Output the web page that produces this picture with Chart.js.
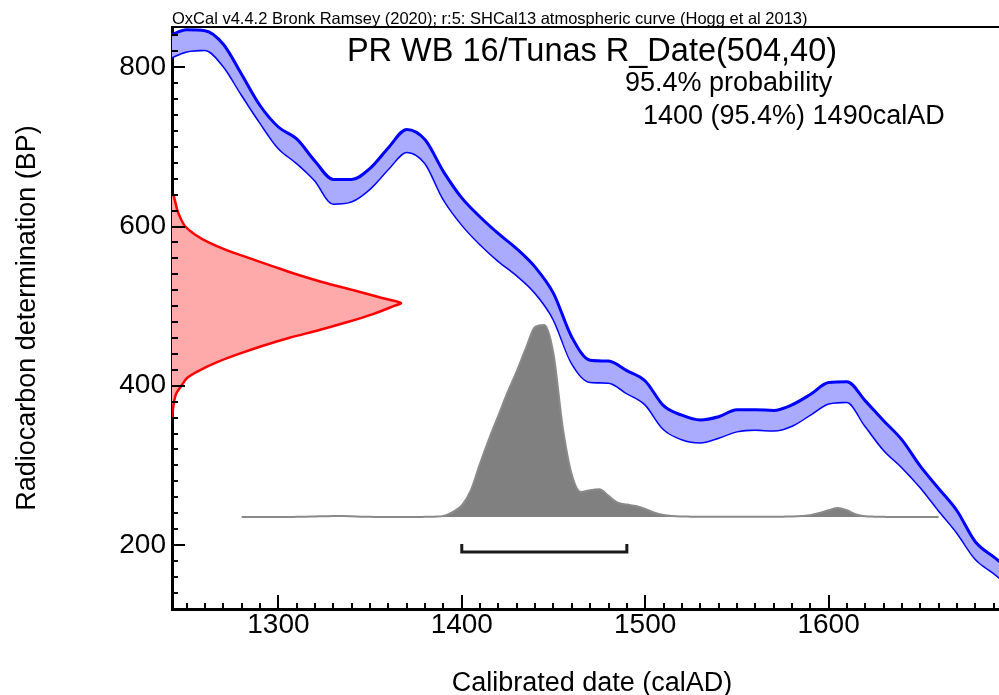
<!DOCTYPE html>
<html>
<head>
<meta charset="utf-8">
<title>OxCal calibration plot</title>
<script src="https://cdn.jsdelivr.net/npm/chart.js@4.4.1/dist/chart.umd.min.js"></script>
<style>
    html, body { margin: 0; padding: 0; background: #fff; overflow: hidden; }
    #wrap { width: 1012px; height: 695px; }
</style>
</head>
<body>
<div id="wrap"><canvas id="calChart" width="1012" height="695"></canvas></div>
<script>
// --- Values ---

// Calibration curve (SHCal13), upper and lower edge of the 1-sigma band, in BP
const curveYears = [1240, 1250, 1260, 1270, 1280, 1290, 1300, 1310, 1320, 1330,
                    1340, 1350, 1360, 1370, 1380, 1390, 1400, 1410, 1420, 1430,
                    1440, 1450, 1460, 1470, 1480, 1490, 1500, 1510, 1520, 1530,
                    1540, 1550, 1560, 1570, 1580, 1590, 1600, 1610, 1620, 1630,
                    1640, 1650, 1660, 1670, 1680, 1690, 1700];
const curveUpper = [839, 847, 846, 829, 791, 752, 725, 710, 682, 659,
                    659, 673, 699, 722, 709, 669, 636, 612, 591, 572,
                    549, 516, 461, 432, 431, 419, 406, 375, 363, 357,
                    361, 370, 370, 369, 376, 389, 404, 405, 381, 356,
                    332, 299, 271, 243, 204, 185, 167];
const curveLower = [811, 820, 822, 802, 766, 731, 699, 680, 658, 629,
                    632, 648, 673, 694, 680, 635, 603, 578, 557, 539,
                    517, 484, 429, 405, 404, 391, 377, 346, 333, 329,
                    335, 343, 345, 344, 350, 364, 378, 380, 350, 320,
                    298, 273, 244, 216, 183, 165, 146];

// Radiocarbon measurement 504 +/- 40 BP (relative probability)
const measuredBP   = [640, 630, 620, 610, 600, 590, 580, 570, 560, 550,
                      540, 530, 520, 510, 504, 500, 490, 480, 470, 460,
                      450, 440, 430, 420, 410, 400, 390, 380, 370, 360];
const measuredProb = [0.006, 0.015, 0.024, 0.038, 0.058, 0.10, 0.16, 0.241, 0.341, 0.441,
                      0.543, 0.659, 0.794, 0.922, 1.0, 0.968, 0.878, 0.767, 0.644, 0.51,
                      0.394, 0.292, 0.20, 0.125, 0.067, 0.041, 0.018, 0.009, 0.004, 0.001];

// Calibrated date distribution (relative probability)
const calYears = [1280, 1285, 1290, 1295, 1300, 1305, 1310, 1315, 1320, 1325,
                  1330, 1335, 1340, 1345, 1350, 1355, 1360, 1365, 1370, 1375,
                  1380, 1385, 1390, 1395, 1400, 1405, 1410, 1415, 1420, 1425,
                  1430, 1435, 1440, 1445, 1450, 1455, 1460, 1465, 1470, 1475,
                  1480, 1485, 1490, 1495, 1500, 1505, 1510, 1515, 1520, 1525,
                  1530, 1535, 1540, 1545, 1550, 1555, 1560, 1565, 1570, 1575,
                  1580, 1585, 1590, 1595, 1600, 1605, 1610, 1615, 1620, 1625,
                  1630, 1635, 1640, 1645, 1650, 1655, 1660];
const calProb = [0, 0, 0, 0, 0, 0, 0.001, 0.002, 0.003, 0.004,
                 0.005, 0.005, 0.004, 0.002, 0.001, 0, 0, 0, 0, 0,
                 0.001, 0.002, 0.006, 0.026, 0.06, 0.14, 0.28, 0.41, 0.53, 0.65,
                 0.76, 0.88, 0.99, 1.0, 0.85, 0.47, 0.22, 0.13, 0.14, 0.144,
                 0.11, 0.075, 0.065, 0.057, 0.042, 0.022, 0.01, 0.005, 0.003, 0.002,
                 0.001, 0.001, 0.001, 0.001, 0.001, 0.001, 0.001, 0.001, 0.001, 0.002,
                 0.003, 0.005, 0.009, 0.021, 0.035, 0.047, 0.035, 0.013, 0.004, 0.002,
                 0.001, 0, 0, 0, 0, 0, 0];

// 95.4% range
const range95 = [1400, 1490];

// Axis ticks
const xTickValues = [1300, 1400, 1500, 1600];
const yTickValues = [200, 400, 600, 800];
const X_MINOR_STEP = 10;
const Y_MINOR_STEP = 20;

// Texts
const headerText = 'OxCal v4.4.2 Bronk Ramsey (2020); r:5: SHCal13 atmospheric curve (Hogg et al 2013)';
const plotTitle = 'PR WB 16/Tunas R_Date(504,40)';
const probLines = ['95.4% probability', '1400 (95.4%) 1490calAD'];

// --- Layout / style ---
const FONT = '"Liberation Sans", Arial, sans-serif';
const RED_SCALE_MAX = 3.67;          // peak of the measurement curve reaches ~229px
const CAL_SCALE = [-0.479, 2.552];   // baseline of the calibrated curve ~92px above the axis
const BRACKET_LEVEL = -0.182;
const BRACKET_TOP = -0.14;

Chart.defaults.font.family = FONT;
Chart.defaults.color = '#000';

// Inward tick marks and the top frame line
const frameTicks = {
    id: 'frameTicks',
    afterDraw(chart) {
        const { ctx, chartArea, scales: { x, y } } = chart;
        ctx.save();
        ctx.strokeStyle = '#000';
        ctx.lineWidth = 2;
        ctx.beginPath();
        ctx.moveTo(chartArea.left, chartArea.top);
        ctx.lineTo(chartArea.right, chartArea.top);
        ctx.stroke();

        for (let v = Math.ceil(x.min / X_MINOR_STEP) * X_MINOR_STEP; v <= x.max; v += X_MINOR_STEP) {
            const px = Math.round(x.getPixelForValue(v));
            const len = xTickValues.includes(v) ? 14 : 6;
            ctx.beginPath();
            ctx.moveTo(px, chartArea.bottom);
            ctx.lineTo(px, chartArea.bottom - len);
            ctx.stroke();
        }
        for (let v = Math.ceil(y.min / Y_MINOR_STEP) * Y_MINOR_STEP; v <= y.max; v += Y_MINOR_STEP) {
            const py = Math.round(y.getPixelForValue(v));
            const len = yTickValues.includes(v) ? 13 : 6;
            ctx.beginPath();
            ctx.moveTo(chartArea.left, py);
            ctx.lineTo(chartArea.left + len, py);
            ctx.stroke();
        }
        ctx.restore();
    }
};

// Header, title and probability texts
const plotTexts = {
    id: 'plotTexts',
    afterDraw(chart) {
        const { ctx, chartArea } = chart;
        ctx.save();
        ctx.fillStyle = '#000';
        ctx.textBaseline = 'alphabetic';
        ctx.textAlign = 'left';
        ctx.font = '16.5px ' + FONT;
        ctx.fillText(headerText, chartArea.left, 24, 636);

        ctx.textBaseline = 'middle';
        ctx.textAlign = 'center';
        ctx.font = '32.5px ' + FONT;
        ctx.fillText(plotTitle, (chartArea.left + chartArea.right) / 2, 52);

        ctx.textAlign = 'left';
        ctx.font = '27px ' + FONT;
        ctx.fillText(probLines[0], 625, 84);
        ctx.fillText(probLines[1], 643, 117);
        ctx.restore();
    }
};

const ctx = document.getElementById('calChart').getContext('2d');
new Chart(ctx, {
    type: 'line',
    data: {
        datasets: [
            {
                label: 'curve upper',
                data: curveYears.map((yr, i) => ({ x: yr, y: curveUpper[i] })),
                xAxisID: 'x', yAxisID: 'y',
                borderColor: '#0000ff',
                borderWidth: 3,
                backgroundColor: '#aaaaff',
                fill: '+1',
                pointRadius: 0,
                cubicInterpolationMode: 'monotone'
            },
            {
                label: 'curve lower',
                data: curveYears.map((yr, i) => ({ x: yr, y: curveLower[i] })),
                xAxisID: 'x', yAxisID: 'y',
                borderColor: '#0000ff',
                borderWidth: 3,
                fill: false,
                pointRadius: 0,
                cubicInterpolationMode: 'monotone'
            },
            {
                label: 'range',
                data: [
                    { x: range95[0], y: BRACKET_TOP },
                    { x: range95[0], y: BRACKET_LEVEL },
                    { x: range95[1], y: BRACKET_LEVEL },
                    { x: range95[1], y: BRACKET_TOP }
                ],
                xAxisID: 'x', yAxisID: 'yp',
                borderColor: '#1a1a1a',
                borderWidth: 3,
                borderJoinStyle: 'miter',
                fill: false,
                pointRadius: 0,
                tension: 0
            },
            {
                label: 'calibrated',
                data: calYears.map((yr, i) => ({ x: yr, y: calProb[i] })),
                xAxisID: 'x', yAxisID: 'yp',
                borderColor: '#8a8a8a',
                borderWidth: 2,
                backgroundColor: '#808080',
                fill: 'origin',
                pointRadius: 0,
                cubicInterpolationMode: 'monotone'
            },
            {
                label: 'measurement',
                indexAxis: 'y',
                data: measuredBP.map((bp, i) => ({ x: measuredProb[i], y: bp })),
                xAxisID: 'xp', yAxisID: 'y',
                borderColor: '#ff0000',
                borderWidth: 2.5,
                backgroundColor: '#ffaaaa',
                fill: 'origin',
                pointRadius: 0,
                tension: 0.3
            }
        ]
    },
    options: {
        responsive: false,
        animation: false,
        events: [],
        layout: { padding: { top: 27, left: 0, right: 0, bottom: 0 } },
        plugins: {
            legend: { display: false },
            tooltip: { enabled: false }
        },
        scales: {
            x: {
                type: 'linear',
                position: 'bottom',
                min: 1242,
                max: 1700,
                z: 1,
                afterFit: scale => { scale.height = 86; },
                afterBuildTicks: scale => { scale.ticks = xTickValues.map(v => ({ value: v })); },
                grid: { display: false, drawTicks: false },
                border: { display: true, color: '#000', width: 3 },
                ticks: {
                    font: { size: 28 }, color: '#000', padding: -1, maxRotation: 0,
                    callback: value => String(value)
                },
                title: {
                    display: true,
                    text: 'Calibrated date (calAD)',
                    font: { size: 27 },
                    color: '#000',
                    padding: { top: 0, bottom: -5 }
                }
            },
            y: {
                type: 'linear',
                position: 'left',
                min: 119.6,
                max: 850.6,
                z: 1,
                afterFit: scale => { scale.width = 172; },
                afterBuildTicks: scale => { scale.ticks = yTickValues.map(v => ({ value: v })); },
                grid: { display: false, drawTicks: false },
                border: { display: true, color: '#000', width: 3 },
                ticks: {
                    font: { size: 28 }, color: '#000', padding: 6,
                    callback: value => String(value)
                },
                title: {
                    display: true,
                    text: 'Radiocarbon determination (BP)',
                    font: { size: 27 },
                    color: '#000',
                    padding: { top: 11, bottom: 0 }
                }
            },
            xp: {
                type: 'linear',
                axis: 'x',
                display: false,
                min: 0,
                max: RED_SCALE_MAX
            },
            yp: {
                type: 'linear',
                axis: 'y',
                display: false,
                min: CAL_SCALE[0],
                max: CAL_SCALE[1]
            }
        }
    },
    plugins: [frameTicks, plotTexts]
});
</script>
</body>
</html>
